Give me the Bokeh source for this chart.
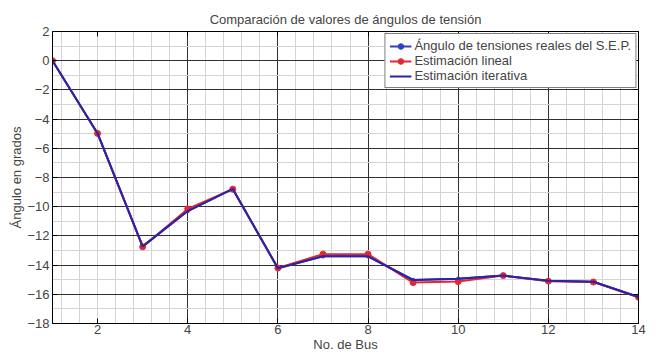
from bokeh.plotting import figure
from bokeh.models import FixedTicker, LinearAxis, Legend, LegendItem, Range1d, CustomJSTickFormatter
from bokeh.embed import file_html
from bokeh.resources import INLINE

bus = [1, 2, 3, 4, 5, 6, 7, 8, 9, 10, 11, 12, 13, 14]
real_angles = [0.0, -4.98, -12.72, -10.30, -8.78, -14.22, -13.40, -13.40, -15.02, -14.93, -14.72, -15.07, -15.14, -16.18]
linear_est = [0.0, -4.98, -12.75, -10.15, -8.80, -14.20, -13.25, -13.25, -15.20, -15.13, -14.72, -15.10, -15.16, -16.20]
iter_est = [0.0, -4.98, -12.72, -10.30, -8.78, -14.22, -13.40, -13.40, -15.02, -14.93, -14.72, -15.07, -15.14, -16.18]

x_ticks = [2, 4, 6, 8, 10, 12, 14]
y_ticks = [-18, -16, -14, -12, -10, -8, -6, -4, -2, 0, 2]

title_txt = "Comparación de valores de ángulos de tensión"
x_label = "No. de Bus"
y_label = "Ángulo en grados"
names = ["Ángulo de tensiones reales del S.E.P.", "Estimación lineal", "Estimación iterativa"]

FONT = "Liberation Sans"
BLUE = "#3040c8"
NAVY = "#2a22a8"
RED = "#e02835"

p = figure(width=656, height=354, output_backend="svg", toolbar_location=None,
           x_range=Range1d(1, 14), y_range=Range1d(-18, 2),
           min_border_left=52, min_border_right=18, min_border_top=31, min_border_bottom=30)

p.title.text = title_txt
p.title.align = "center"
p.title.text_font = FONT
p.title.text_font_size = "13px"
p.title.text_font_style = "normal"
p.title.standoff = 9

p.outline_line_color = "black"
p.outline_line_width = 1

# grids
minor_x = [round(0.4 * k, 1) for k in range(3, 36)]
p.xgrid.ticker = FixedTicker(ticks=[4, 6, 8, 10, 12], minor_ticks=minor_x)
p.xgrid.grid_line_color = "#303030"
p.xgrid.grid_line_width = 1
p.xgrid.minor_grid_line_color = "#d4d4d4"
p.xgrid.minor_grid_line_width = 1

p.ygrid.ticker = FixedTicker(ticks=[-16, -14, -12, -10, -8, -6, -4, -2, 0], minor_ticks=list(range(-17, 2)))
p.ygrid.grid_line_color = "#303030"
p.ygrid.grid_line_width = 1
p.ygrid.minor_grid_line_color = "#d4d4d4"
p.ygrid.minor_grid_line_width = 1

for ax in (p.xaxis[0], p.yaxis[0]):
    ax.major_tick_in = 5
    ax.major_tick_out = 0
    ax.minor_tick_in = 0
    ax.minor_tick_out = 0
    ax.axis_line_color = "black"
    ax.major_label_text_font = FONT
    ax.major_label_text_font_size = "13px"
    ax.axis_label_text_font = FONT
    ax.axis_label_text_font_size = "13px"
    ax.axis_label_text_font_style = "normal"

p.xaxis[0].ticker = FixedTicker(ticks=x_ticks)
p.yaxis[0].ticker = FixedTicker(ticks=y_ticks)
p.xaxis[0].axis_label = x_label
p.yaxis[0].axis_label = y_label
p.xaxis[0].axis_label_standoff = 0
p.xaxis[0].major_label_standoff = 1
p.yaxis[0].axis_label_standoff = 0
p.yaxis[0].major_label_standoff = 3

top_ax = LinearAxis(ticker=FixedTicker(ticks=x_ticks), formatter=CustomJSTickFormatter(code="return ''"),
                    major_tick_in=5, major_tick_out=0, minor_tick_in=0, minor_tick_out=0)
right_ax = LinearAxis(ticker=FixedTicker(ticks=y_ticks), formatter=CustomJSTickFormatter(code="return ''"),
                      major_tick_in=5, major_tick_out=0, minor_tick_in=0, minor_tick_out=0)
top_ax.major_label_standoff = 0
right_ax.major_label_standoff = 0
p.add_layout(top_ax, "above")
p.add_layout(right_ax, "right")

# series
r1l = p.line(bus, real_angles, line_color=BLUE, line_width=2)
r1m = p.scatter(bus, real_angles, marker="circle", size=3.5, color=BLUE)
r2l = p.line(bus, linear_est, line_color=RED, line_width=2)
r2m = p.scatter(bus, linear_est, marker="circle", size=6, color=RED)
r3l = p.line(bus, iter_est, line_color=NAVY, line_width=2)

legend = Legend(items=[
    LegendItem(label=names[0], renderers=[r1l, r1m]),
    LegendItem(label=names[1], renderers=[r2l, r2m]),
    LegendItem(label=names[2], renderers=[r3l]),
], location="top_right")
legend.margin = 2
legend.padding = 4
legend.spacing = 0
legend.label_text_font = FONT
legend.label_text_font_size = "13px"
legend.label_height = 14
legend.glyph_height = 14
legend.glyph_width = 22
legend.label_standoff = 3
legend.border_line_color = "black"
legend.border_line_width = 1
legend.background_fill_alpha = 1
p.add_layout(legend, "center")

open("out.html", "w").write(file_html(p, INLINE))
